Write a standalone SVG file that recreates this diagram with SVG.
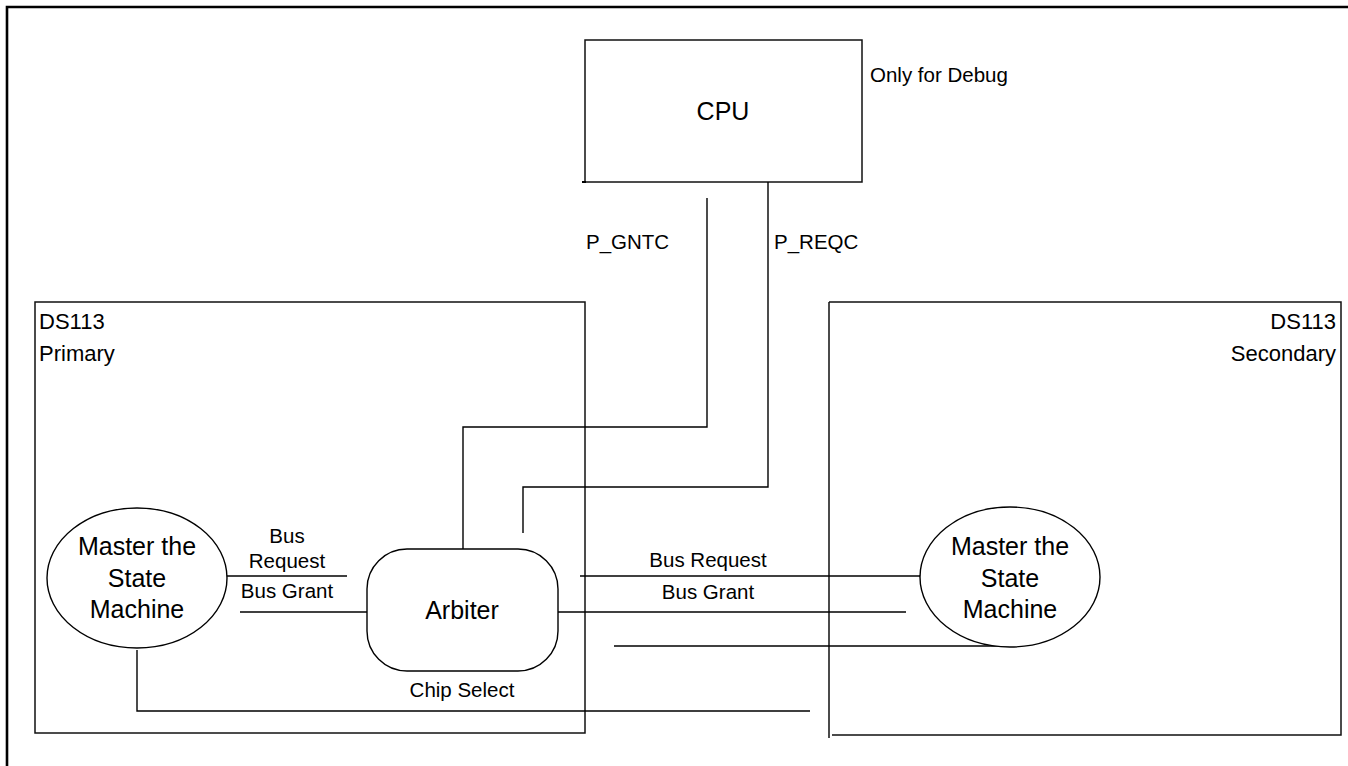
<svg xmlns="http://www.w3.org/2000/svg" width="1348" height="766" viewBox="0 0 1348 766">
<style>
.ln{fill:none;stroke:#000;stroke-width:1.4}
.bx{fill:none;stroke:#111;stroke-width:1.5}
.sh{fill:#fff;stroke:#000;stroke-width:1.4}
.t{font-family:"Liberation Sans",Arial,sans-serif;fill:#000}
.big{font-size:25px}
.sm{font-size:20.5px}
.lb{font-size:22px}
</style>
<rect width="1348" height="766" fill="#fff"/>
<path d="M7,766 V7 H1348" fill="none" stroke="#000" stroke-width="2.6"/>
<g id="primary">
<rect class="bx" x="35" y="302" width="550" height="431"/>
<text class="t lb" x="39" y="329">DS113</text>
<text class="t lb" x="39" y="361">Primary</text>
</g>
<g id="secondary">
<path class="bx" d="M829,302 H1341 V735 H832 M829,302 V738"/>
<text class="t lb" x="1336" y="329" text-anchor="end">DS113</text>
<text class="t lb" x="1336" y="361" text-anchor="end">Secondary</text>
</g>
<g id="cpu">
<rect class="bx" x="585" y="40" width="277" height="142"/>
<path d="M582,182 H586" stroke="#000" stroke-width="2"/>
<text class="t big" x="723" y="120" text-anchor="middle">CPU</text>
</g>
<g id="debug-note">
<text class="t sm" x="870" y="82">Only for Debug</text>
</g>
<g id="connectors">
<path class="ln" d="M768,182 V487 H523 V533"/>
<path class="ln" d="M707,198 V427 H463 V549"/>
<path class="ln" d="M226,576 H347"/>
<path class="ln" d="M240,612 H367"/>
<path class="ln" d="M137,650 V711 H810"/>
<path class="ln" d="M580,576 H921"/>
<circle cx="921" cy="576" r="1.6" fill="#000"/>
<path class="ln" d="M558,612 H906"/>
<path class="ln" d="M614,646 H1010"/>
<text class="t sm" x="586" y="249">P_GNTC</text>
<text class="t sm" x="774" y="249">P_REQC</text>
<text class="t sm" x="287" y="543" text-anchor="middle">Bus</text>
<text class="t sm" x="287" y="568" text-anchor="middle">Request</text>
<text class="t sm" x="287" y="598" text-anchor="middle">Bus Grant</text>
<text class="t sm" x="462" y="697" text-anchor="middle">Chip Select</text>
<text class="t sm" x="708" y="567" text-anchor="middle">Bus Request</text>
<text class="t sm" x="708" y="599" text-anchor="middle">Bus Grant</text>
</g>
<g id="master-primary">
<ellipse class="sh" cx="137" cy="578" rx="90" ry="70"/>
<text class="t big" x="137" y="555" text-anchor="middle">Master the</text>
<text class="t big" x="137" y="587" text-anchor="middle">State</text>
<text class="t big" x="137" y="618" text-anchor="middle">Machine</text>
</g>
<g id="arbiter">
<rect class="sh" x="367" y="549" width="191" height="122" rx="40" ry="40"/>
<text class="t big" x="462" y="619" text-anchor="middle">Arbiter</text>
</g>
<g id="master-secondary">
<ellipse class="sh" cx="1010" cy="577" rx="90" ry="70"/>
<text class="t big" x="1010" y="555" text-anchor="middle">Master the</text>
<text class="t big" x="1010" y="587" text-anchor="middle">State</text>
<text class="t big" x="1010" y="618" text-anchor="middle">Machine</text>
</g>
</svg>
